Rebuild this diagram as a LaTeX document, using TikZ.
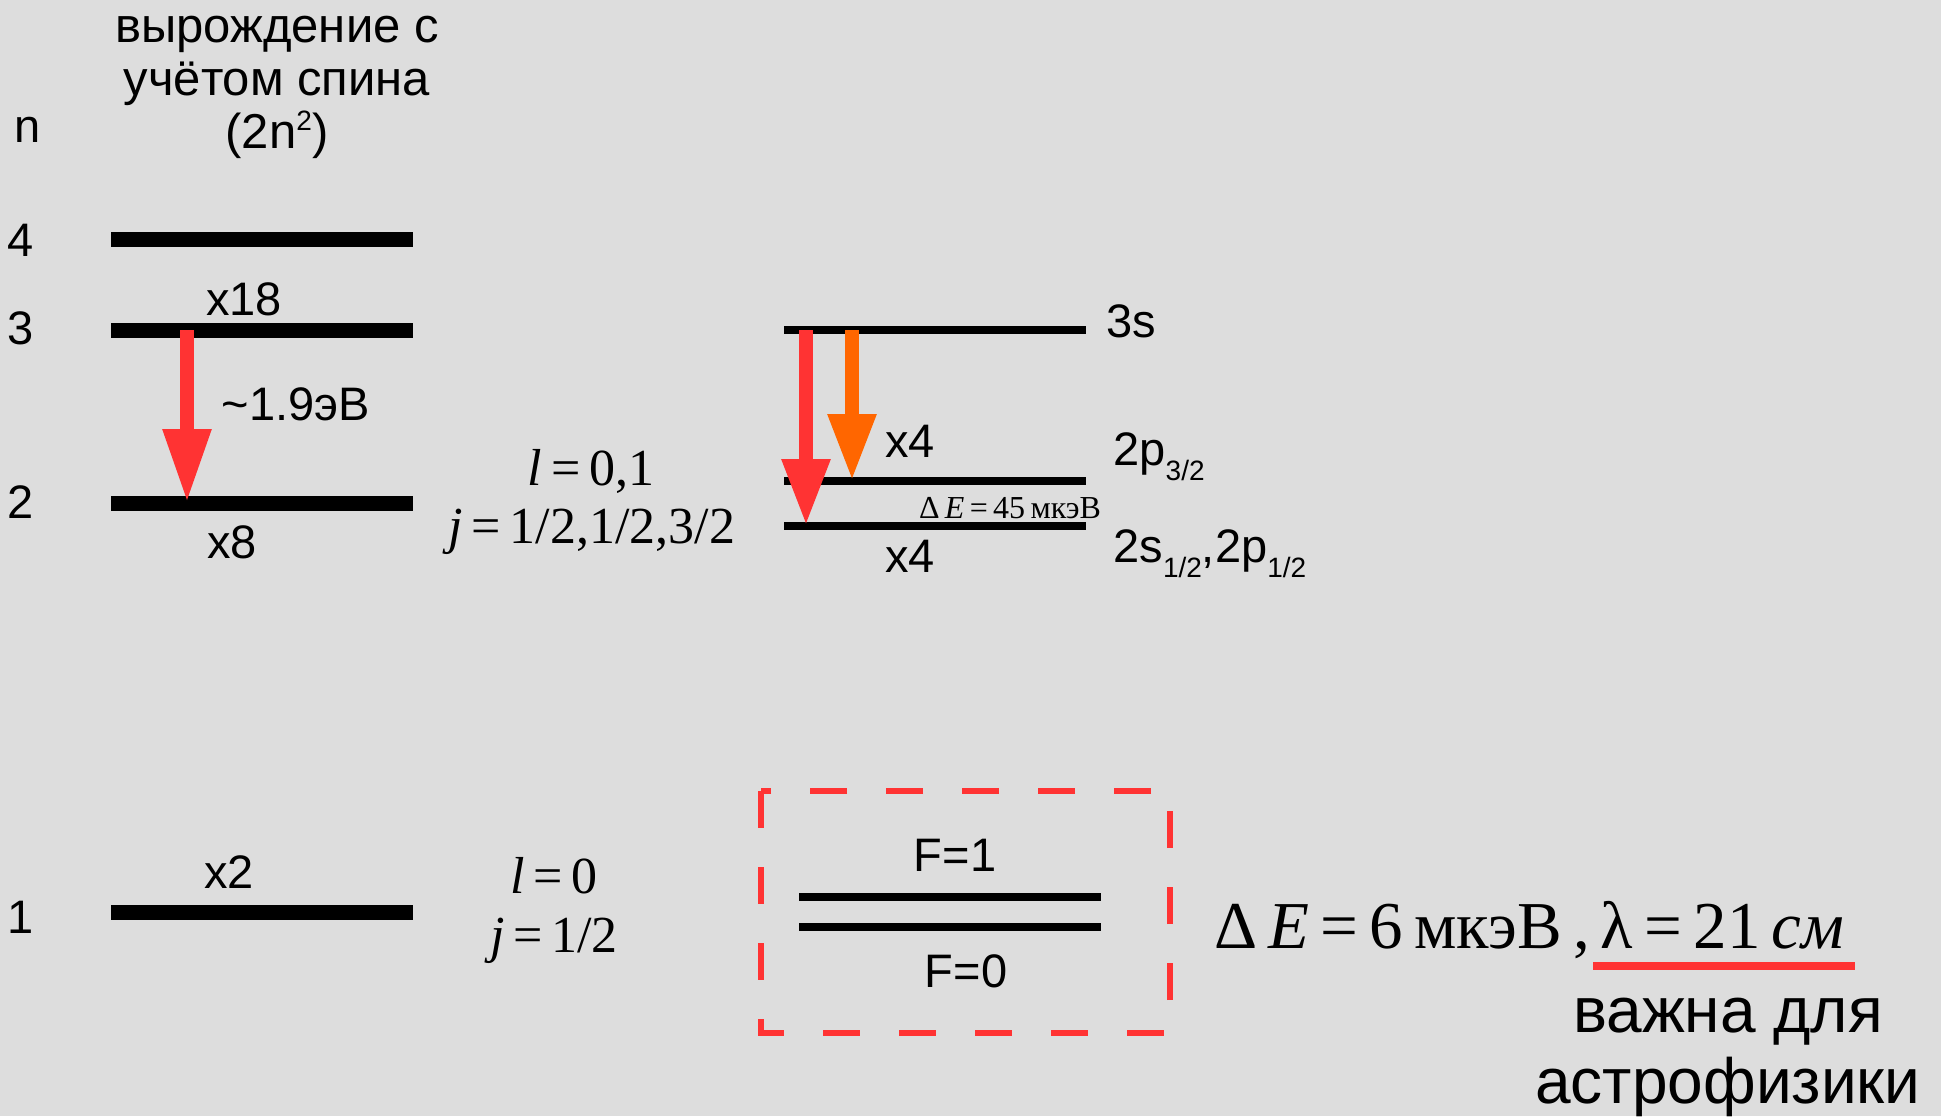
\documentclass[tikz,border=0pt]{standalone}
\usepackage{fontspec}
\setmainfont{Liberation Sans}
\newfontfamily\eqfont{Liberation Serif}
\usetikzlibrary{arrows.meta}
\definecolor{bggray}{HTML}{DDDDDD}
\definecolor{arrred}{HTML}{FF3333}
\definecolor{arrorange}{HTML}{FF6600}
\tikzstyle{enlevel}    = [line width=7.5pt]
\tikzstyle{finelevel}  = [line width=3.6pt]
\tikzstyle{lbl}        = [inner sep=0pt, anchor=base, font=\fontsize{23.5}{28}\selectfont]
\tikzstyle{biglbl}     = [inner sep=0pt, anchor=base, font=\fontsize{32}{38}\selectfont]
\tikzstyle{eqlbl}      = [inner sep=0pt, anchor=base, font=\eqfont\fontsize{26}{31}\selectfont]
\tikzstyle{transarrow} = [line width=7.25pt, -{Triangle[width=22.5pt,length=33.5pt]}]
\tikzstyle{hfsbox}     = [draw=arrred, line width=3.4pt, dash pattern=on 18.5pt off 19.5pt]
\newcommand{\lsub}[1]{\raisebox{-7.5pt}{\fontsize{14}{14}\selectfont #1}}

\begin{document}
\begin{tikzpicture}[x=0.5pt, y=-0.5pt]

\fill[bggray] (0,0) rectangle (1941,1116);
\useasboundingbox (0,0) rectangle (1941,1116);

% header
\node[lbl, font=\fontsize{24.5}{29}\selectfont] (T1) at (277,42) {вырождение с};
\node[lbl, font=\fontsize{24.5}{29}\selectfont] (T2) at (277,95) {учётом спина};
\node[lbl, font=\fontsize{24.5}{29}\selectfont] (T3) at (277,148)
  {(2n\raisebox{9pt}{\fontsize{14}{14}\selectfont 2})};
\node[lbl] (N) at (28,142) {n};

% principal levels
\node[lbl, anchor=center] (N4) at (21,240) {4};
\node[lbl, anchor=center] (N3) at (21,328) {3};
\node[lbl, anchor=center] (N2) at (21,502) {2};
\node[lbl, anchor=center] (N1) at (21,917) {1};

\coordinate (L4a) at (111,239); \coordinate (L4b) at (413,239);
\coordinate (L3a) at (111,330); \coordinate (L3b) at (413,330);
\coordinate (L2a) at (111,503); \coordinate (L2b) at (413,503);
\coordinate (L1a) at (111,912); \coordinate (L1b) at (413,912);

\draw[enlevel] (L4a) -- (L4b);
\draw[enlevel] (L3a) -- (L3b);
\draw[enlevel] (L2a) -- (L2b);
\draw[enlevel] (L1a) -- (L1b);

\node[lbl] (D3) at (244,315) {x18};
\node[lbl] (D2) at (232,558) {x8};
\node[lbl] (D1) at (229,888) {x2};

\coordinate (A3) at (187,330);
\coordinate (A2) at (187,503);
\draw[transarrow, arrred, -{Triangle[width=22.5pt,length=37pt]}] (A3) -- (A2);
\node[lbl] (EH) at (296,420) {\textasciitilde 1.9эВ};

% quantum numbers
\node[eqlbl] (QL2) at (591,485) {\textit{l}\,=\,0,1};
\node[eqlbl] (QJ2) at (592,543) {\textit{j}\,=\,1/2,1/2,3/2};
\node[eqlbl] (QL1) at (554,893) {\textit{l}\,=\,0};
\node[eqlbl] (QJ1) at (554,952) {\textit{j}\,=\,1/2};

% fine structure
\coordinate (S3a) at (784,330); \coordinate (S3b) at (1086,330);
\coordinate (P3a) at (784,481); \coordinate (P3b) at (1086,481);
\coordinate (S1a) at (784,526); \coordinate (S1b) at (1086,526);

\draw[finelevel] (S3a) -- (S3b);
\draw[finelevel] (P3a) -- (P3b);
\draw[finelevel] (S1a) -- (S1b);

\node[lbl, anchor=base west] (S3) at (1106,337) {3s};
\node[lbl, anchor=base west] (P3) at (1113,465) {2p\lsub{3/2}};
\node[lbl, anchor=base west] (S1) at (1113,562) {2s\lsub{1/2},2p\lsub{1/2}};
\node[lbl] (DP3) at (910,457) {x4};
\node[lbl] (DS1) at (910,572) {x4};
\node[eqlbl, font=\eqfont\fontsize{16}{18}\selectfont] (LS) at (1010,518) {Δ\,\textit{E}\,=\,45\,мкэВ};

\coordinate (R3) at (806,330);
\coordinate (R2) at (806,526);
\coordinate (O3) at (852,330);
\coordinate (O2) at (852,481);
\draw[transarrow, arrred] (R3) -- (R2);
\draw[transarrow, arrorange] (O3) -- (O2);

% hyperfine structure
\draw[hfsbox] (761,791) rectangle (1170,1033);
\coordinate (F1a) at (799,897); \coordinate (F1b) at (1101,897);
\coordinate (F0a) at (799,927); \coordinate (F0b) at (1101,927);
\draw[finelevel] (F1a) -- (F1b);
\draw[finelevel] (F0a) -- (F0b);
\node[lbl] (F1) at (955,871) {F=1};
\node[lbl] (F0) at (966,987) {F=0};

\node[eqlbl, anchor=base west, font=\eqfont\fontsize{33.5}{40}\selectfont] (HF) at (1214,948)
  {Δ\,\textit{E}\,=\,6\,мкэВ\,,\,λ\,=\,21\,\textit{см}};
\coordinate (U1) at (1593,966);
\coordinate (U2) at (1855,966);
\draw[arrred, line width=4pt] (U1) -- (U2);

\node[biglbl] (IM1) at (1728,1032) {важна для};
\node[biglbl] (IM2) at (1728,1103) {астрофизики};

\end{tikzpicture}
\end{document}
